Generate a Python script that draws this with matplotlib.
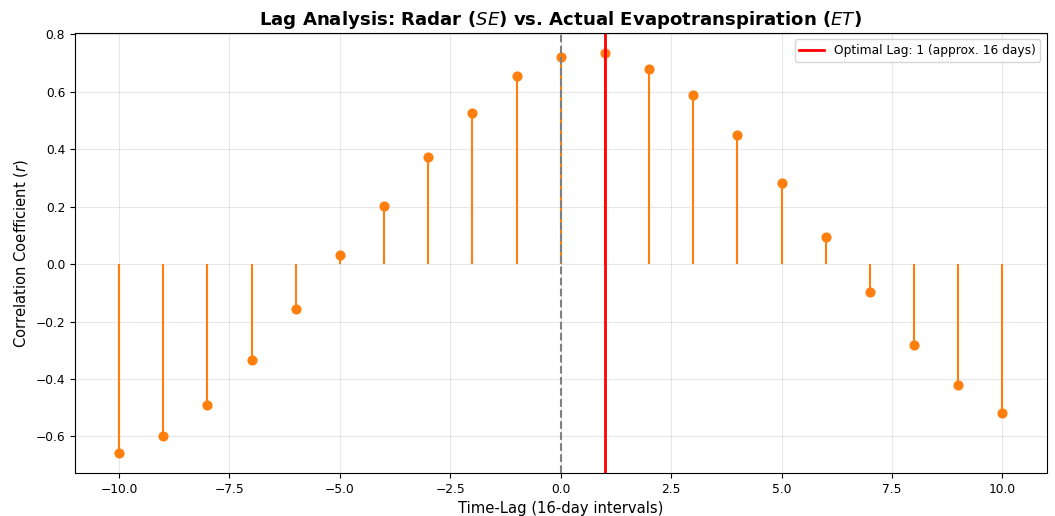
import numpy as np
import matplotlib.pyplot as plt

lags = np.arange(-10, 11)
corr = [-0.658, -0.598, -0.490, -0.335, -0.156, 0.031, 0.202, 0.374, 0.526, 0.655,
        0.721, 0.734, 0.680, 0.589, 0.450, 0.281, 0.094, -0.097, -0.280, -0.420, -0.520]
best_lag = 1

fig, ax = plt.subplots(figsize=(10.55, 5.16), dpi=100)

markerline, stemlines, baseline = ax.stem(lags, corr, basefmt=" ")
plt.setp(stemlines, color="#ff7f0e", linewidth=1.5)
plt.setp(markerline, color="#ff7f0e", markersize=6.3)

ax.axvline(0, color="gray", linestyle="--", linewidth=1.5)
ax.axvline(best_lag, color="red", linewidth=2,
           label=f"Optimal Lag: {best_lag} (approx. {best_lag * 16} days)")

ax.set_title("Lag Analysis: Radar ($SE$) vs. Actual Evapotranspiration ($ET$)",
             fontsize=13.1, fontweight="bold")
ax.set_xlabel("Time-Lag (16-day intervals)", fontsize=10.6)
ax.set_ylabel("Correlation Coefficient ($r$)", fontsize=10.6)
ax.tick_params(labelsize=8.8)
ax.grid(True, alpha=0.3)
ax.legend(loc="upper right", fontsize=8.8)

plt.subplots_adjust(left=0.071, right=0.992, top=0.936, bottom=0.083)
plt.savefig("out.png")
